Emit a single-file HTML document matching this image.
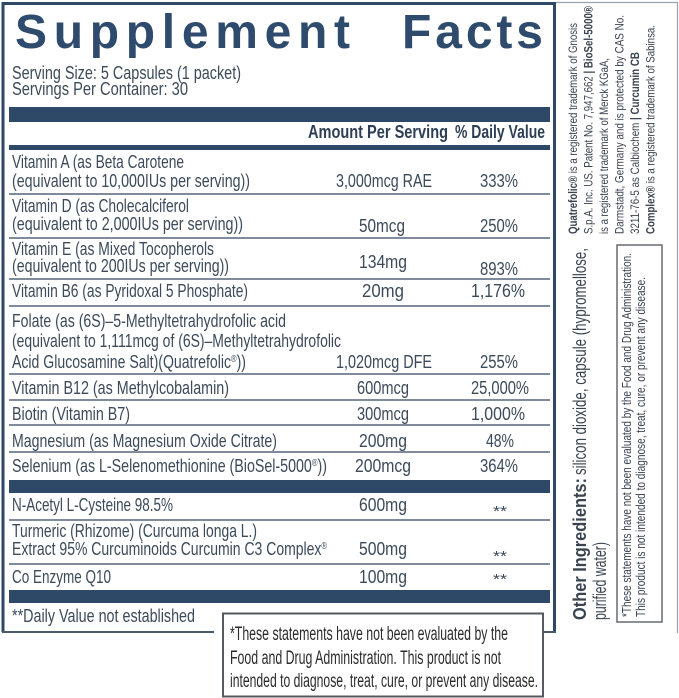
<!DOCTYPE html>
<html>
<head>
<meta charset="utf-8">
<style>
  html,body{margin:0;padding:0;background:#fff;}
  svg{display:block;}
  text{font-family:"Liberation Sans", Arial, sans-serif;}
</style>
</head>
<body>
<svg width="679" height="698" viewBox="0 0 679 698" xmlns="http://www.w3.org/2000/svg">
  <rect x="0" y="0" width="679" height="698" fill="#ffffff"/>

  <!-- right panel thin border -->
  <path d="M556 2.5 H677.5 V633" stroke="#9aa3ad" stroke-width="1.2" fill="none"/>

  <!-- main box border -->
  <path d="M3 632 V3.5 H554.5 V632" stroke="#2e4868" stroke-width="3" fill="none"/>
  <line x1="2" y1="632" x2="214" y2="632" stroke="#4a5a6c" stroke-width="2"/>
  <line x1="543" y1="632" x2="556" y2="632" stroke="#4a5a6c" stroke-width="2"/>

  <!-- Title -->
  <text x="15" y="48" font-size="48" font-weight="bold" fill="#2e4a6d" textLength="335" lengthAdjust="spacing">Supplement</text>
  <text x="402" y="48" font-size="48" font-weight="bold" fill="#2e4a6d" textLength="141" lengthAdjust="spacing">Facts</text>

  <!-- serving -->
  <g fill="#3c4a5a" font-size="18">
    <text x="12" y="79" textLength="229" lengthAdjust="spacingAndGlyphs">Serving Size: 5 Capsules (1 packet)</text>
    <text x="12" y="95" textLength="176" lengthAdjust="spacingAndGlyphs">Servings Per Container: 30</text>
  </g>

  <!-- bars -->
  <g fill="#2e4868">
    <rect x="9" y="107" width="541" height="15"/>
    <rect x="9" y="145" width="541" height="5"/>
    <rect x="9" y="480" width="541" height="13"/>
    <rect x="9" y="590" width="541" height="13"/>
  </g>

  <!-- header -->
  <g fill="#2e3f55" font-size="18" font-weight="bold">
    <text x="308" y="138" textLength="140" lengthAdjust="spacingAndGlyphs">Amount Per Serving</text>
    <text x="455" y="138" textLength="90" lengthAdjust="spacingAndGlyphs">% Daily Value</text>
  </g>

  <!-- dividers -->
  <g stroke="#55647a" stroke-width="1.5">
    <line x1="9" y1="194" x2="550" y2="194"/>
    <line x1="9" y1="238" x2="550" y2="238"/>
    <line x1="9" y1="279" x2="550" y2="279"/>
    <line x1="9" y1="306" x2="550" y2="306"/>
    <line x1="9" y1="374" x2="550" y2="374"/>
    <line x1="9" y1="400" x2="550" y2="400"/>
    <line x1="9" y1="425" x2="550" y2="425"/>
    <line x1="9" y1="452" x2="550" y2="452"/>
    <line x1="9" y1="520" x2="550" y2="520"/>
    <line x1="9" y1="564" x2="550" y2="564"/>
  </g>

  <!-- left column -->
  <g fill="#3c4a5a" font-size="18.5">
    <text x="12" y="168" textLength="172" lengthAdjust="spacingAndGlyphs">Vitamin A (as Beta Carotene</text>
    <text x="12" y="187" textLength="238" lengthAdjust="spacingAndGlyphs">(equivalent to 10,000IUs per serving))</text>
    <text x="12" y="212" textLength="177" lengthAdjust="spacingAndGlyphs">Vitamin D (as Cholecalciferol</text>
    <text x="12" y="230" textLength="231" lengthAdjust="spacingAndGlyphs">(equivalent to 2,000IUs per serving))</text>
    <text x="12" y="255" textLength="202" lengthAdjust="spacingAndGlyphs">Vitamin E (as Mixed Tocopherols</text>
    <text x="12" y="272" textLength="217" lengthAdjust="spacingAndGlyphs">(equivalent to 200IUs per serving))</text>
    <text x="12" y="297" textLength="236" lengthAdjust="spacingAndGlyphs">Vitamin B6 (as Pyridoxal 5 Phosphate)</text>
    <text x="12" y="327" textLength="274" lengthAdjust="spacingAndGlyphs">Folate (as (6S)–5-Methyltetrahydrofolic acid</text>
    <text x="12" y="347" textLength="329" lengthAdjust="spacingAndGlyphs">(equivalent to 1,111mcg of (6S)–Methyltetrahydrofolic</text>
    <text x="12" y="368" textLength="234" lengthAdjust="spacingAndGlyphs">Acid Glucosamine Salt)(Quatrefolic<tspan font-size="10" dy="-6">®</tspan><tspan dy="6">))</tspan></text>
    <text x="12" y="394" textLength="217" lengthAdjust="spacingAndGlyphs">Vitamin B12 (as Methylcobalamin)</text>
    <text x="12" y="420" textLength="118" lengthAdjust="spacingAndGlyphs">Biotin (Vitamin B7)</text>
    <text x="12" y="447" textLength="265" lengthAdjust="spacingAndGlyphs">Magnesium (as Magnesium Oxide Citrate)</text>
    <text x="12" y="472" textLength="315" lengthAdjust="spacingAndGlyphs">Selenium (as L-Selenomethionine (BioSel-5000<tspan font-size="10" dy="-6">®</tspan><tspan dy="6">))</tspan></text>
    <text x="12" y="511" textLength="161" lengthAdjust="spacingAndGlyphs">N-Acetyl L-Cysteine 98.5%</text>
    <text x="12" y="537" textLength="245" lengthAdjust="spacingAndGlyphs">Turmeric (Rhizome) (Curcuma longa L.)</text>
    <text x="12" y="555" textLength="315" lengthAdjust="spacingAndGlyphs">Extract 95% Curcuminoids Curcumin C3 Complex<tspan font-size="10" dy="-6">®</tspan></text>
    <text x="12" y="583" textLength="99" lengthAdjust="spacingAndGlyphs">Co Enzyme Q10</text>
    <text x="12" y="622" textLength="183" lengthAdjust="spacingAndGlyphs">**Daily Value not established</text>
  </g>

  <!-- amount column -->
  <g fill="#3c4a5a" font-size="18.5" text-anchor="middle">
    <text x="384" y="187" textLength="96" lengthAdjust="spacingAndGlyphs">3,000mcg RAE</text>
    <text x="382" y="232" textLength="46" lengthAdjust="spacingAndGlyphs">50mcg</text>
    <text x="383" y="268" textLength="48" lengthAdjust="spacingAndGlyphs">134mg</text>
    <text x="383" y="297" textLength="42" lengthAdjust="spacingAndGlyphs">20mg</text>
    <text x="384" y="368" textLength="96" lengthAdjust="spacingAndGlyphs">1,020mcg DFE</text>
    <text x="383" y="394" textLength="52" lengthAdjust="spacingAndGlyphs">600mcg</text>
    <text x="383" y="420" textLength="52" lengthAdjust="spacingAndGlyphs">300mcg</text>
    <text x="383" y="447" textLength="48" lengthAdjust="spacingAndGlyphs">200mg</text>
    <text x="383" y="472" textLength="56" lengthAdjust="spacingAndGlyphs">200mcg</text>
    <text x="383" y="511" textLength="48" lengthAdjust="spacingAndGlyphs">600mg</text>
    <text x="383" y="555" textLength="48" lengthAdjust="spacingAndGlyphs">500mg</text>
    <text x="383" y="583" textLength="48" lengthAdjust="spacingAndGlyphs">100mg</text>
  </g>

  <!-- %DV column -->
  <g fill="#3c4a5a" font-size="18.5" text-anchor="middle">
    <text x="499" y="187" textLength="38" lengthAdjust="spacingAndGlyphs">333%</text>
    <text x="499" y="232" textLength="38" lengthAdjust="spacingAndGlyphs">250%</text>
    <text x="499" y="275" textLength="38" lengthAdjust="spacingAndGlyphs">893%</text>
    <text x="498" y="297" textLength="54" lengthAdjust="spacingAndGlyphs">1,176%</text>
    <text x="499" y="368" textLength="38" lengthAdjust="spacingAndGlyphs">255%</text>
    <text x="500" y="394" textLength="58" lengthAdjust="spacingAndGlyphs">25,000%</text>
    <text x="498" y="420" textLength="54" lengthAdjust="spacingAndGlyphs">1,000%</text>
    <text x="500" y="447" textLength="28" lengthAdjust="spacingAndGlyphs">48%</text>
    <text x="499" y="472" textLength="38" lengthAdjust="spacingAndGlyphs">364%</text>
  </g>
  <g fill="#3c4a5a" font-size="15" text-anchor="middle">
    <text x="500" y="516" textLength="14" lengthAdjust="spacingAndGlyphs">**</text>
    <text x="500" y="561" textLength="14" lengthAdjust="spacingAndGlyphs">**</text>
    <text x="500" y="584" textLength="14" lengthAdjust="spacingAndGlyphs">**</text>
  </g>

  <!-- bottom disclaimer box -->
  <rect x="223" y="613.5" width="320" height="83" fill="#ffffff" stroke="#555a60" stroke-width="2"/>
  <g fill="#2b2b2b" font-size="19">
    <text x="230" y="640" textLength="278" lengthAdjust="spacingAndGlyphs">*These statements have not been evaluated by the</text>
    <text x="230" y="664" textLength="271" lengthAdjust="spacingAndGlyphs">Food and Drug Administration. This product is not</text>
    <text x="230" y="687" textLength="308" lengthAdjust="spacingAndGlyphs">intended to diagnose, treat, cure, or prevent any disease.</text>
  </g>

  <!-- right panel: trademark text -->
  <g fill="#3a4350" font-size="12">
    <text transform="translate(577,234) rotate(-90)" textLength="211" lengthAdjust="spacingAndGlyphs"><tspan font-weight="bold">Quatrefolic®</tspan> is a registered trademark of Gnosis</text>
    <text transform="translate(592.5,234) rotate(-90)" textLength="228" lengthAdjust="spacingAndGlyphs">S.p.A. Inc. US. Patent No. 7,947,662 <tspan font-weight="bold">| BioSel-5000®</tspan></text>
    <text transform="translate(608,234) rotate(-90)" textLength="176" lengthAdjust="spacingAndGlyphs">is a registered trademark of Merck KGaA,</text>
    <text transform="translate(623.5,234) rotate(-90)" textLength="219" lengthAdjust="spacingAndGlyphs">Darmstadt, Germany and is protected by CAS No.</text>
    <text transform="translate(639,234) rotate(-90)" textLength="182" lengthAdjust="spacingAndGlyphs">3211-76-5 as Calbiochem <tspan font-weight="bold">| Curcumin CB</tspan></text>
    <text transform="translate(654.5,234) rotate(-90)" textLength="209" lengthAdjust="spacingAndGlyphs"><tspan font-weight="bold">Complex®</tspan> is a registered trademark of Sabinsa.</text>
  </g>

  <!-- right panel: other ingredients -->
  <g fill="#3a4350" font-size="18">
    <text transform="translate(586,620) rotate(-90)" textLength="142" lengthAdjust="spacingAndGlyphs" font-weight="bold">Other Ingredients:</text>
    <text transform="translate(586,475) rotate(-90)" textLength="227" lengthAdjust="spacingAndGlyphs">silicon dioxide, capsule (hypromellose,</text>
    <text transform="translate(606,620) rotate(-90)" textLength="78" lengthAdjust="spacingAndGlyphs">purified water)</text>
  </g>

  <!-- right panel: disclaimer box -->
  <rect x="617" y="245" width="45" height="377" fill="none" stroke="#666b72" stroke-width="1.5"/>
  <g fill="#3a4350" font-size="12.5">
    <text transform="translate(631,617) rotate(-90)" textLength="364" lengthAdjust="spacingAndGlyphs">*These statements have not been evaluated by the Food and Drug Administration.</text>
    <text transform="translate(645,617) rotate(-90)" textLength="340" lengthAdjust="spacingAndGlyphs">This product is not intended to diagnose, treat, cure, or prevent any disease.</text>
  </g>
</svg>
</body>
</html>
